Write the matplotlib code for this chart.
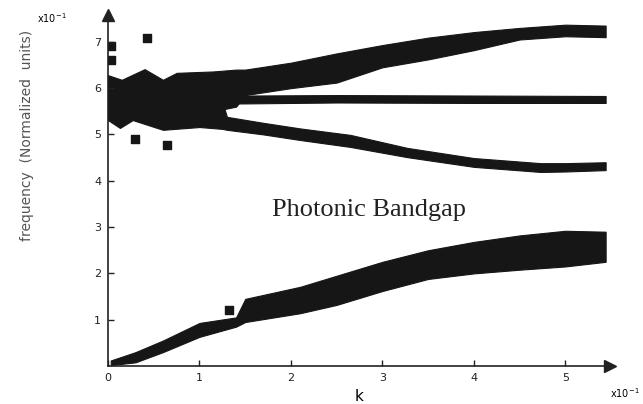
import numpy as np
import matplotlib
matplotlib.use('Agg')
import matplotlib.pyplot as plt

# wavevector k (x10^-1) and band edges, frequency in normalized units (x10^-1)
k_upper = [0.0, 0.15, 0.4, 0.6, 0.75, 1.15, 1.4, 1.5, 2.0, 2.5, 3.0, 3.5, 4.0, 4.5, 5.0, 5.44]
upper_top = [6.28, 6.18, 6.41, 6.18, 6.33, 6.36, 6.4, 6.4, 6.55, 6.75, 6.93, 7.09, 7.21, 7.3, 7.37, 7.35]
upper_bot = [5.5, 5.5, 5.5, 5.5, 5.5, 5.5, 5.6, 5.85, 6.0, 6.12, 6.45, 6.62, 6.82, 7.05, 7.12, 7.1]

k_flat = [0.0, 1.5, 2.5, 4.0, 5.44]
flat_top = [5.85, 5.84, 5.85, 5.84, 5.83]
flat_bot = [5.66, 5.67, 5.69, 5.68, 5.68]

k_desc = [0.0, 0.13, 0.27, 0.6, 1.0, 1.25, 1.3, 1.7, 2.1, 2.65, 3.27, 4.0, 4.73, 5.0, 5.44]
desc_top = [5.7, 5.7, 5.7, 5.7, 5.7, 5.7, 5.38, 5.25, 5.13, 4.99, 4.71, 4.49, 4.38, 4.38, 4.4]
desc_bot = [5.31, 5.14, 5.31, 5.1, 5.16, 5.12, 5.1, 5.0, 4.88, 4.73, 4.51, 4.3, 4.19, 4.2, 4.23]

k_lower = [0.03, 0.3, 0.6, 1.0, 1.4, 1.5, 2.1, 2.5, 3.0, 3.5, 4.0, 4.5, 5.0, 5.44]
lower_top = [0.12, 0.3, 0.55, 0.93, 1.05, 1.45, 1.71, 1.95, 2.25, 2.5, 2.68, 2.82, 2.92, 2.9]
lower_bot = [0.02, 0.08, 0.3, 0.63, 0.85, 0.95, 1.14, 1.32, 1.62, 1.88, 2.0, 2.08, 2.15, 2.25]

# stray points
stray_k = [0.43, 0.3, 0.65, 1.32, 0.03, 0.03]
stray_f = [7.08, 4.9, 4.78, 1.2, 6.6, 6.9]

band_color = '#161616'

fig = plt.figure(figsize=(6.43, 4.04), dpi=100)
ax = fig.add_axes([0.168, 0.094, 0.781, 0.869])

for kk, top, bot in [(k_upper, upper_top, upper_bot),
                     (k_flat, flat_top, flat_bot),
                     (k_desc, desc_top, desc_bot),
                     (k_lower, lower_top, lower_bot)]:
    ax.fill_between(kk, bot, top, color=band_color, linewidth=0.8, edgecolor=band_color)

ax.scatter(stray_k, stray_f, marker='s', s=40, color=band_color)

ax.set_xlim(0, 5.49)
ax.set_ylim(0, 7.58)
for side in ['top', 'right']:
    ax.spines[side].set_visible(False)
for side in ['left', 'bottom']:
    ax.spines[side].set_linewidth(1.2)
    ax.spines[side].set_color('#222222')

# arrow heads on the axes
ax.plot(1, 0, '>', color='#222222', markersize=8, transform=ax.transAxes, clip_on=False)
ax.plot(0, 1, '^', color='#222222', markersize=8, transform=ax.transAxes, clip_on=False)

ax.set_xticks([0, 1, 2, 3, 4, 5])
ax.set_yticks([1, 2, 3, 4, 5, 6, 7])
ax.tick_params(direction='in', length=4, width=1, labelsize=8, colors='#222222', pad=5)

ax.set_xlabel('k', fontsize=11, labelpad=4)
fig.text(0.042, 0.665, 'frequency  (Normalized  units)', rotation=90, fontsize=10,
         color='#555555', ha='center', va='center')

fig.text(0.08, 0.955, r'x10$^{-1}$', fontsize=7, ha='center', va='center')
fig.text(0.972, 0.027, r'x10$^{-1}$', fontsize=7, ha='center', va='center')

ax.text(2.85, 3.37, 'Photonic Bandgap', fontsize=19, family='Liberation Serif',
        ha='center', va='center', color='#222222')

fig.savefig('out.png', dpi=100)
